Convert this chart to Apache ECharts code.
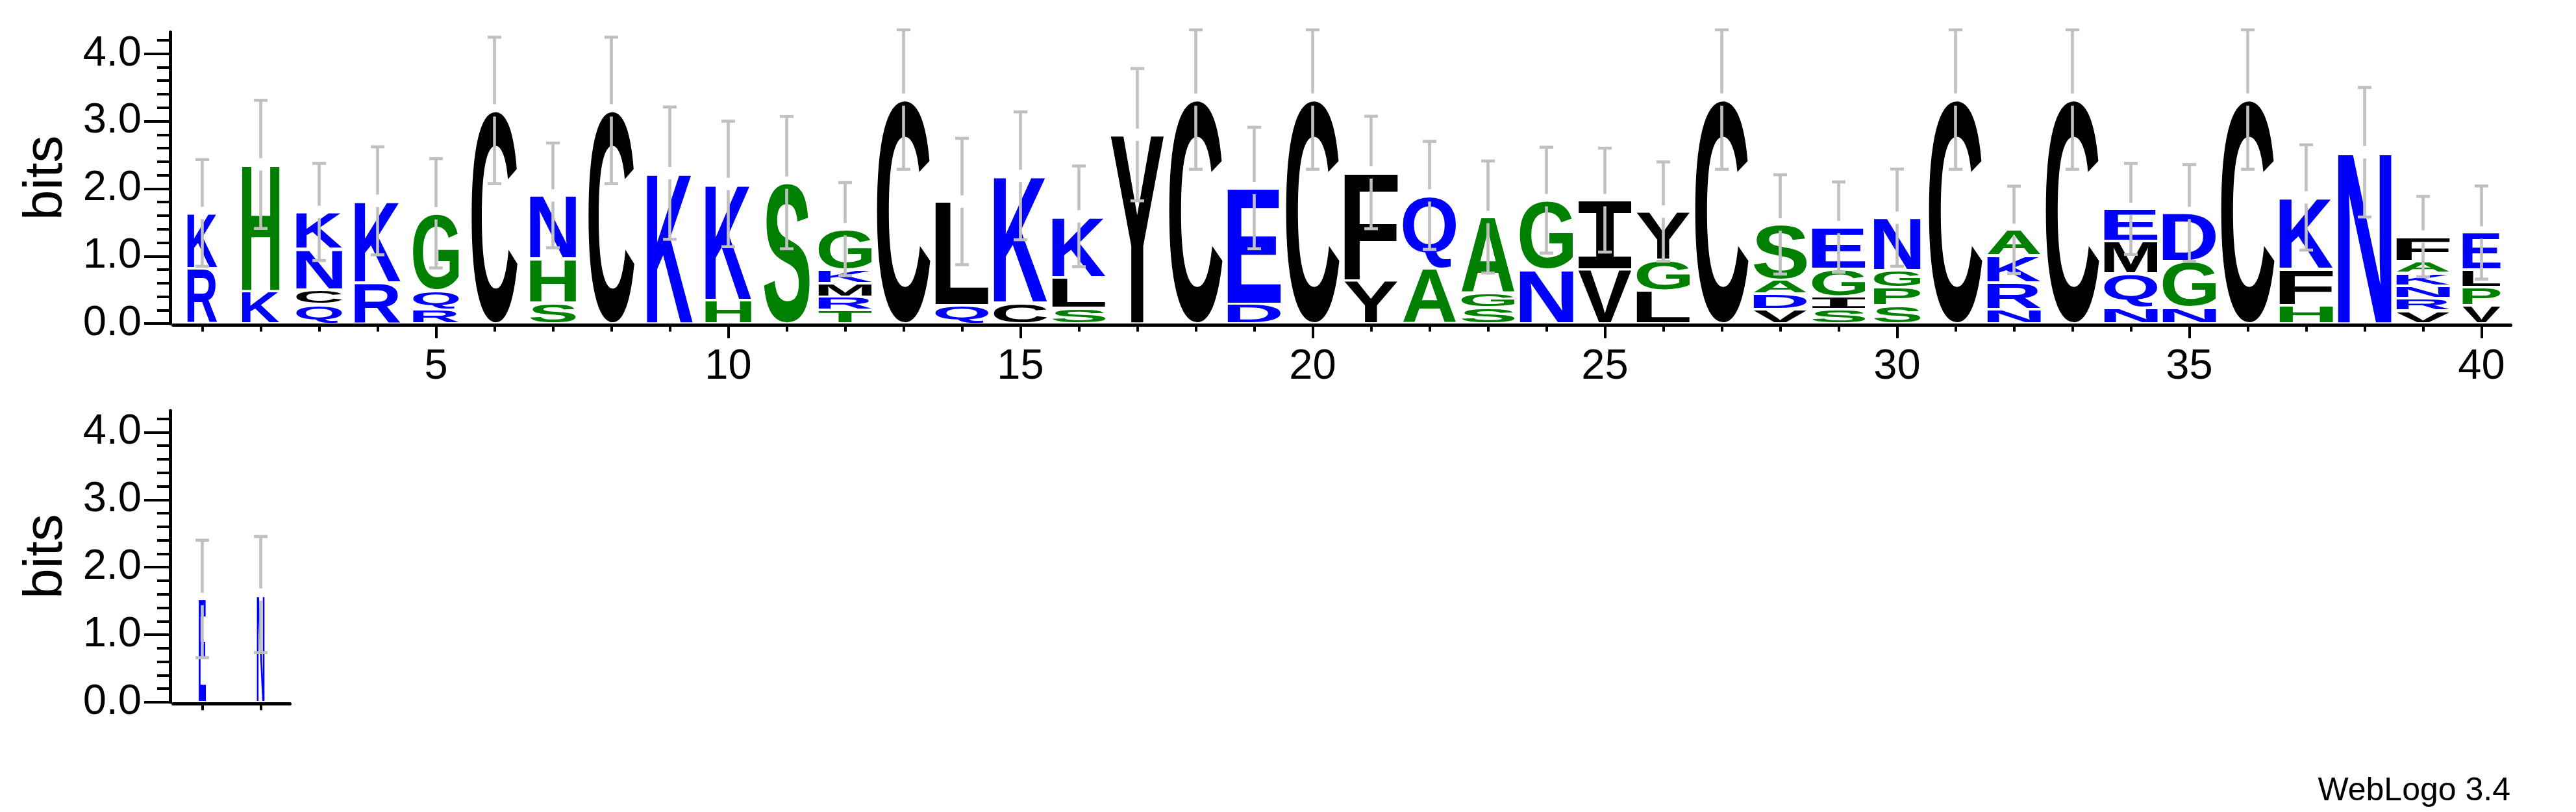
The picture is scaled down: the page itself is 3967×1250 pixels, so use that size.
<!DOCTYPE html>
<html><head><meta charset="utf-8">
<script src="https://cdn.jsdelivr.net/npm/echarts@6/dist/echarts.min.js"></script>
<style>html,body{margin:0;padding:0;background:#fff}#c{width:3967px;height:1250px}</style>
</head><body><div id="c"></div>
<script>
// ---- data (sequence logo, letters listed bottom -> top) ----
const positions = [1,2,3,4,5,6,7,8,9,10,11,12,13,14,15,16,17,18,19,20,21,22,23,24,25,26,27,28,29,30,31,32,33,34,35,36,37,38,39,40,41,42];
const stackLetters = ["RK","KH","QCNK","RK","RQG","C","SHN","C","K","HK","S","TRMKG","C","QL","CK","SLK","Y","C","DE","C","YF","AQ","SGA","NG","VI","LGY","C","VDAS","SIGE","SPGN","C","NRKA","C","NQME","NGD","C","HFK","N","VRNKAF","VPLE","E","N"];
const stackHeights = [
  [0.82,0.82],[0.48,1.88],[0.285,0.22,0.60,0.55],[0.61,1.21],[0.21,0.285,1.14],
  [3.16],[0.31,0.65,0.94],[3.16],[2.23],[0.35,1.72],
  [2.09],[0.20,0.20,0.20,0.20,0.60],[3.32],[0.27,1.54],[0.31,1.88],
  [0.23,0.46,0.90],[2.80],[3.32],[0.29,1.72],[3.32],
  [0.64,1.60],[0.82,1.08],[0.24,0.21,1.13],[0.80,1.03],[0.80,1.03],
  [0.49,0.46,0.71],[3.32],[0.21,0.23,0.21,0.82],[0.21,0.19,0.41,0.62],[0.27,0.27,0.25,0.78],
  [3.32],[0.21,0.40,0.40,0.38],[3.32],[0.24,0.50,0.48,0.48],[0.24,0.69,0.71],
  [3.32],[0.27,0.54,1.06],[2.54],[0.19,0.185,0.19,0.185,0.18,0.36],[0.27,0.27,0.26,0.55],
  [1.53],[1.595]
];
const stackWidth = [0.56,0.70,0.86,0.86,0.86,0.86,0.86,0.86,0.86,0.86,0.86,1,1,1,1,1,1,1,1,1,1,1,1,1,1,1,1,1,1,0.87,1,1,1,1,1,1,1,1,1,0.71,0.134,0.143];
const errorHalf = [0.79,0.95,0.72,0.80,0.81,1.085,0.776,1.085,0.98,0.93,0.98,0.69,1.033,0.936,0.947,0.746,0.98,1.033,0.90,1.033,0.833,0.80,0.83,0.784,0.77,0.736,1.033,0.736,0.67,0.72,1.033,0.647,1.033,0.675,0.717,1.033,0.78,0.96,0.595,0.69,0.87,0.86];
const xTicksTop = [1,2,3,4,5,6,7,8,9,10,11,12,13,14,15,16,17,18,19,20,21,22,23,24,25,26,27,28,29,30,31,32,33,34,35,36,37,38,39,40];
const xLabelsTop = [5,10,15,20,25,30,35,40];
const xTicksBottom = [41,42];
const yMajorTicks = [0,1,2,3,4];
const yMinorTicks = [0.2,0.4,0.6,0.8,1.2,1.4,1.6,1.8,2.2,2.4,2.6,2.8,3.2,3.4,3.6,3.8,4.2];
const colorGroups = [
  {letters: "RKDENQ", color: "#0000ff"},
  {letters: "SGHTAP", color: "#008000"},
  {letters: "YVMCLFIW", color: "#000000"}
];
const Y_MAX = 4.32;

// ---- helpers ----
function colorOf(ch){ for (const g of colorGroups) if (g.letters.indexOf(ch) >= 0) return g.color; return "#000"; }
const GLYPH_FONT = 'bold 200px "Liberation Sans"';
const I_FONT = 'bold 200px "DejaVu Sans Mono"';
const mctx = document.createElement('canvas').getContext('2d');
const metricCache = {};
function metricsFor(ch){
  if (metricCache[ch]) return metricCache[ch];
  const font = ch === 'I' ? I_FONT : GLYPH_FONT;
  mctx.font = font; mctx.textBaseline = 'middle'; mctx.textAlign = 'left';
  const m = mctx.measureText(ch);
  return metricCache[ch] = {font, l: -m.actualBoundingBoxLeft, r: m.actualBoundingBoxRight, t: -m.actualBoundingBoxAscent, b: m.actualBoundingBoxDescent};
}
const LETTER_FRAC = 0.911, INSET = 2;

const letterTop = [], letterBottom = [];
const errTop = [], errBottom = [];
positions.forEach((p, i) => {
  let base = 0;
  stackHeights[i].forEach((h, j) => {
    (p <= 40 ? letterTop : letterBottom).push([p, base, base + h, i, j]);
    base += h;
  });
  (p <= 40 ? errTop : errBottom).push([p, base, errorHalf[i]]);
});

function renderLetter(params, api){
  const p = api.value(0), y0 = api.value(1), y1 = api.value(2), i = api.value(3), j = api.value(4);
  const ch = stackLetters[i][j];
  const colW = api.size([1, 0])[0];
  const w = colW * LETTER_FRAC * stackWidth[i];
  const bot = api.coord([p, y0]), top = api.coord([p, y1]);
  const x0 = bot[0] - w / 2, x1 = bot[0] + w / 2;
  const yb = bot[1] - INSET, yt = top[1] + INSET;
  if (yb - yt < 0.5) return null;
  const m = metricsFor(ch);
  const sx = (x1 - x0) / (m.r - m.l), sy = (yb - yt) / (m.b - m.t);
  return {type: 'text', x: x0 - sx * m.l, y: yt - sy * m.t, scaleX: sx, scaleY: sy, silent: true,
    style: {text: ch, x: 0, y: 0, font: m.font, fill: colorOf(ch), align: 'left', verticalAlign: 'middle', textAlign: 'left', textVerticalAlign: 'middle'}};
}
function renderErr(params, api){
  const p = api.value(0), t = api.value(1), e = api.value(2);
  const c = api.coord([p, t]), hi = api.coord([p, t + e]), lo = api.coord([p, t - e]);
  const gap = 9.5, lw = 4.6, capW = 21, col = '#c0c0c0';
  const ch = [];
  ch.push({type: 'rect', shape: {x: c[0] - lw / 2, y: hi[1], width: lw, height: c[1] - gap - hi[1]}, style: {fill: col}});
  ch.push({type: 'rect', shape: {x: c[0] - lw / 2, y: c[1] + gap, width: lw, height: lo[1] - c[1] - gap}, style: {fill: col}});
  ch.push({type: 'rect', shape: {x: c[0] - capW / 2, y: hi[1] - lw / 2, width: capW, height: lw}, style: {fill: col}});
  ch.push({type: 'rect', shape: {x: c[0] - capW / 2, y: lo[1] - lw / 2, width: capW, height: lw}, style: {fill: col}});
  return {type: 'group', children: ch, silent: true};
}

const FONT = '"Liberation Sans", Arial, sans-serif';
const lineStyle = {color: '#000', width: 5};
function yAxes(gridIndex){
  return [
    {type: 'value', gridIndex, position: 'left', min: 0, max: Y_MAX, offset: 4.5,
     axisLine: {show: true, lineStyle}, splitLine: {show: false},
     axisTick: {show: true, customValues: yMajorTicks, length: 40, lineStyle: {color: '#000', width: 4}},
     axisLabel: {show: true, customValues: yMajorTicks, formatter: v => v.toFixed(1), fontSize: 65, fontFamily: FONT, color: '#000', margin: 44},
     name: 'bits', nameLocation: 'middle', nameRotate: 90, nameGap: 148,
     nameTextStyle: {fontSize: 84, fontFamily: FONT, color: '#000'}},
    {type: 'value', gridIndex, position: 'left', min: 0, max: Y_MAX, offset: 4.5,
     axisLine: {show: false}, splitLine: {show: false},
     axisTick: {show: true, customValues: yMinorTicks, length: 20, lineStyle: {color: '#000', width: 4}},
     axisLabel: {show: false}}
  ];
}

const chart = echarts.init(document.getElementById('c'), null, {renderer: 'canvas', width: 3967, height: 1250});
chart.setOption({
  animation: false,
  backgroundColor: '#fff',
  title: {text: 'WebLogo 3.4', right: 101, top: 1193, padding: 0,
    textStyle: {fontSize: 50, fontWeight: 'normal', fontFamily: FONT, color: '#000'}},
  grid: [
    {left: 266.5, top: 49.4, width: 3600, height: 448.8},
    {left: 266.5, top: 632.2, width: 180, height: 448.8}
  ],
  xAxis: [
    {type: 'value', gridIndex: 0, min: 0.5, max: 40.5, position: 'bottom', offset: 2.3,
     axisLine: {show: true, onZero: false, lineStyle}, splitLine: {show: false},
     axisTick: {show: true, customValues: xTicksTop, length: 10, lineStyle: {color: '#000', width: 4}},
     axisLabel: {show: false}},
    {type: 'value', gridIndex: 0, min: 0.5, max: 40.5, position: 'bottom', offset: 2.3,
     axisLine: {show: false, onZero: false}, splitLine: {show: false},
     axisTick: {show: true, customValues: xLabelsTop, length: 20, lineStyle: {color: '#000', width: 4}},
     axisLabel: {show: true, customValues: xLabelsTop, fontSize: 65, fontFamily: FONT, color: '#000', margin: 32}},
    {type: 'value', gridIndex: 1, min: 40.5, max: 42.5, position: 'bottom', offset: 2.3,
     axisLine: {show: true, onZero: false, lineStyle}, splitLine: {show: false},
     axisTick: {show: true, customValues: xTicksBottom, length: 10, lineStyle: {color: '#000', width: 4}},
     axisLabel: {show: false}}
  ],
  yAxis: [...yAxes(0), ...yAxes(1)],
  series: [
    {type: 'custom', xAxisIndex: 0, yAxisIndex: 0, renderItem: renderLetter, data: letterTop, clip: false, z: 2},
    {type: 'custom', xAxisIndex: 0, yAxisIndex: 0, renderItem: renderErr, data: errTop, clip: false, z: 3},
    {type: 'custom', xAxisIndex: 2, yAxisIndex: 2, renderItem: renderLetter, data: letterBottom, clip: false, z: 2},
    {type: 'custom', xAxisIndex: 2, yAxisIndex: 2, renderItem: renderErr, data: errBottom, clip: false, z: 3}
  ]
});
</script></body></html>
